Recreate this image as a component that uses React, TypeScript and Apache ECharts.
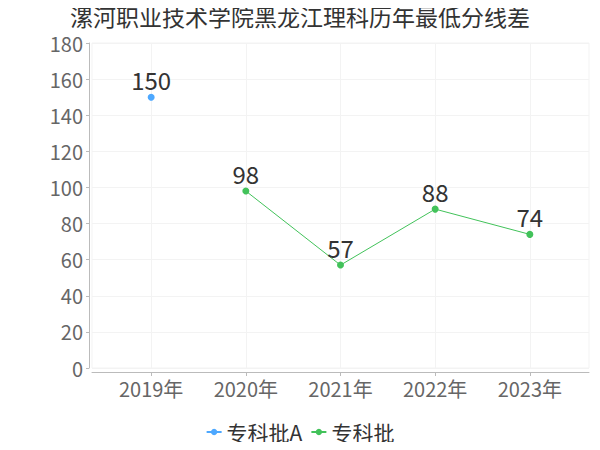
import React, { useEffect, useRef } from "react";
import * as echarts from "echarts";

const title = "漯河职业技术学院黑龙江理科历年最低分线差";
const categories = ["2019年", "2020年", "2021年", "2022年", "2023年"];
const seriesNames = ["专科批A", "专科批"];
const seriesA = [150, null, null, null, null];
const seriesB = [null, 98, 57, 88, 74];
const colors = ["#4da8ff", "#42c25a"];

const FONT = "'Noto Sans CJK SC', 'Noto Sans', sans-serif";

function toPairs(vals: (number | null)[]) {
  return vals.map((v, i) => [i, v]).filter((p) => p[1] !== null);
}

export default function App() {
  const ref = useRef<HTMLDivElement>(null);
  useEffect(() => {
    if (!ref.current) return;
    const chart = echarts.init(ref.current, undefined, { renderer: "svg" });
    const mkSeries = (name: string, vals: (number | null)[], color: string) => ({
      name,
      type: "line",
      data: toPairs(vals),
      symbol: "circle",
      symbolSize: 7,
      itemStyle: { color },
      lineStyle: { color, width: 1 },
      label: {
        show: true,
        position: "top",
        fontSize: 24,
        color: "#333",
        fontFamily: FONT,
        distance: 2,
      },
    });
    chart.setOption({
      animation: false,
      textStyle: { fontFamily: FONT },
      title: {
        text: title,
        left: "center",
        top: 4,
        padding: 0,
        textStyle: { fontSize: 23, lineHeight: 24, fontWeight: "normal", color: "#333", fontFamily: FONT },
      },
      grid: {
        left: 92,
        right: 11,
        top: 43,
        bottom: 82,
        show: true,
        borderColor: "#f3f3f3",
        borderWidth: 1,
      },
      legend: {
        top: 416,
        left: "center",
        itemWidth: 15,
        itemHeight: 8,
        itemGap: 8,
        padding: [2, 5],
        textStyle: { fontSize: 21, lineHeight: 28, color: "#333", fontFamily: FONT },
        data: seriesNames,
      },
      xAxis: {
        type: "value",
        min: -0.625,
        max: 4.625,
        offset: 4,
        axisLine: { show: true, onZero: false, lineStyle: { color: "#bbb" } },
        axisTick: { show: true, length: 4, lineStyle: { color: "#bbb" }, customValues: [0, 1, 2, 3, 4] },
        axisLabel: {
          fontSize: 20,
          color: "#666",
          fontFamily: FONT,
          margin: 6,
          customValues: [0, 1, 2, 3, 4],
          formatter: (v: number) => categories[Math.round(v)] ?? "",
        },
        splitLine: { show: true, lineStyle: { color: "#f3f3f3" } },
      },
      yAxis: {
        type: "value",
        min: 0,
        max: 180,
        interval: 20,
        offset: 3,
        axisLine: { show: true, onZero: false, lineStyle: { color: "#bbb" } },
        axisTick: { show: true, length: 3, lineStyle: { color: "#bbb" } },
        axisLabel: { fontSize: 20, lineHeight: 20, color: "#666", fontFamily: FONT, margin: 6 },
        splitLine: { show: true, lineStyle: { color: "#f3f3f3" } },
      },
      series: [
        mkSeries(seriesNames[0], seriesA, colors[0]),
        mkSeries(seriesNames[1], seriesB, colors[1]),
      ],
    });
    return () => chart.dispose();
  }, []);
  return <div ref={ref} style={{ width: 600, height: 450, margin: -8 }} />;
}
